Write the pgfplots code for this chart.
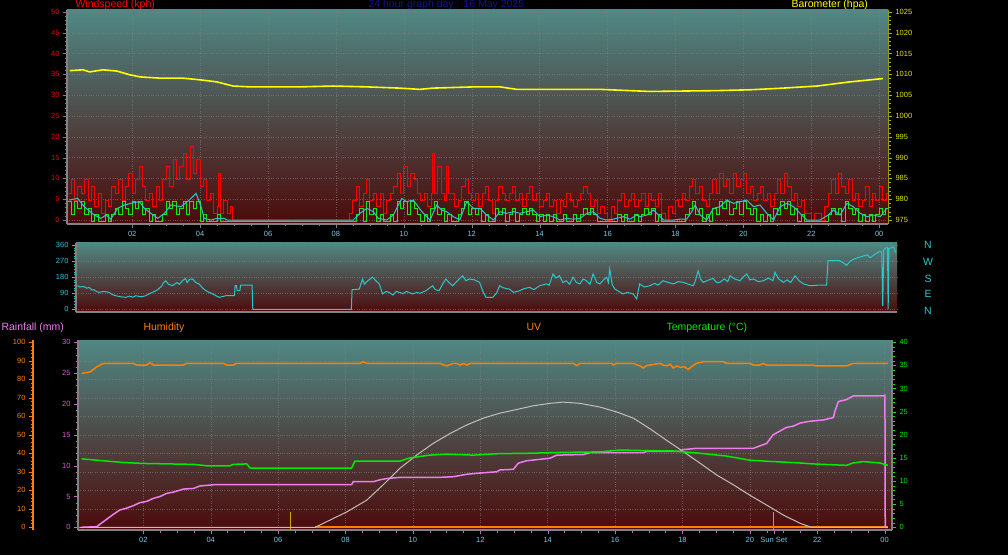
\documentclass[border=0pt]{standalone}
\usepackage{pgfplots}
\pgfplotsset{compat=1.18}
\usepackage{fontspec}
\setmainfont{Liberation Sans}

\definecolor{bgtop}{RGB}{80,136,132}
\definecolor{bgmid}{RGB}{62,66,66}
\definecolor{bgbot}{RGB}{76,10,10}
\definecolor{gridc}{RGB}{130,130,130}
\definecolor{axgray}{RGB}{130,130,130}
\definecolor{windred}{RGB}{255,0,0}
\definecolor{avggreen}{RGB}{20,235,20}
\definecolor{smcyan}{RGB}{40,200,205}
\definecolor{baroyel}{RGB}{255,255,0}
\definecolor{hourcol}{RGB}{120,200,230}
\definecolor{titleblue}{RGB}{20,20,140}
\definecolor{humor}{RGB}{255,128,0}
\definecolor{rainpink}{RGB}{240,125,240}
\definecolor{rainlab}{RGB}{205,100,205}
\definecolor{tempgreen}{RGB}{0,235,0}
\definecolor{uvgray}{RGB}{195,190,190}
\definecolor{sunmark}{RGB}{210,160,0}

\pgfplotsset{
  wx/.style={
    scale only axis, anchor=south west, tick align=outside,
    ticklabel style={font=\fontsize{7.5}{8}\selectfont},
    /pgf/number format/assume math mode=true,
    /pgf/number format/1000 sep={},
    major tick length=4pt, minor tick length=2.5pt,
    grid style={dotted, draw=gridc, opacity=0.6},
    axis line style={draw=axgray, line width=1.5pt},
  },
  bg/.style={axis background/.style={top color=bgtop, middle color=bgmid, bottom color=bgbot}},
  hours/.style={
    xtick={2,4,...,24}, minor x tick num=3,
    xticklabels={02,04,06,08,10,12,14,16,18,20,22,00},
    xticklabel style={text=hourcol},
  },
}

\begin{document}
\begin{tikzpicture}
\fill[black] (0pt,0pt) rectangle (1008pt,555pt);

% ---------- top panel: wind ----------
\begin{axis}[wx, bg, hours, at={(67pt,331pt)}, width=821pt, height=214pt,
  xmin=0.08, xmax=24.26, ymin=-0.96, ymax=50.48,
  axis y line*=left, axis x line*=bottom,
  ytick={0,5,...,50}, minor y tick num=4,
  yticklabel style={text=red!90!black},
  grid=major]
\addplot[windred, line width=0.8pt, const plot] coordinates {
(0.1,6.4)(0.2,9.7)(0.3,4.8)(0.4,8.0)(0.5,6.4)(0.6,9.7)(0.7,4.8)(0.8,8.0)(0.9,3.2)(1.0,6.4)
(1.1,1.6)(1.2,4.8)(1.3,3.2)(1.4,8.0)(1.5,6.4)(1.6,9.7)(1.7,4.8)(1.8,8.0)(1.9,11.3)(2.0,6.4)
(2.1,9.7)(2.2,12.9)(2.3,8.0)(2.4,4.8)(2.5,6.4)(2.6,3.2)(2.7,8.0)(2.8,4.8)(2.9,9.7)(3.0,12.9)
(3.1,8.0)(3.2,14.5)(3.3,9.7)(3.4,12.9)(3.5,16.1)(3.6,9.7)(3.7,17.7)(3.8,11.3)(3.9,14.5)(4.0,8.0)
(4.1,9.7)(4.2,4.8)(4.3,6.4)(4.4,1.6)(4.5,3.2)(4.55,11.3)(4.6,1.6)(4.7,4.8)(4.8,1.6)(4.9,3.2)(4.95,0)
(8.35,0)(8.4,1.6)(8.5,4.8)(8.6,8.0)(8.7,3.2)(8.8,6.4)(8.9,9.7)(9.0,4.8)
(9.1,6.4)(9.2,3.2)(9.3,6.4)(9.4,1.6)(9.5,4.8)(9.6,6.4)(9.7,8.0)(9.8,11.3)(9.9,6.4)(10.0,12.9)
(10.1,8.0)(10.2,11.3)(10.3,9.7)(10.4,6.4)(10.5,4.8)(10.6,6.4)(10.7,3.2)(10.8,6.4)(10.85,16.1)(10.9,6.4)(11.0,12.9)
(11.1,6.4)(11.2,4.8)(11.25,12.9)(11.3,6.4)(11.4,6.4)(11.5,3.2)(11.6,4.8)(11.7,8.0)(11.8,9.7)(11.9,6.4)(12.0,4.8)
(12.1,6.4)(12.2,3.2)(12.3,6.4)(12.4,8.0)(12.5,4.8)(12.6,1.6)(12.7,4.8)(12.8,8.0)(12.9,6.4)(13.0,4.8)
(13.1,6.4)(13.2,8.0)(13.3,4.8)(13.4,6.4)(13.5,3.2)(13.6,6.4)(13.7,8.0)(13.8,4.8)(13.9,6.4)(14.0,3.2)
(14.1,4.8)(14.2,6.4)(14.3,3.2)(14.4,4.8)(14.5,1.6)(14.6,4.8)(14.7,3.2)(14.8,6.4)(14.9,4.8)(15.0,3.2)
(15.1,4.8)(15.2,6.4)(15.3,8.0)(15.4,6.4)(15.5,3.2)(15.6,4.8)(15.7,1.6)(15.8,3.2)(15.9,1.6)(16.0,0)
(16.1,3.2)(16.2,1.6)(16.3,4.8)(16.4,6.4)(16.5,3.2)(16.6,4.8)(16.7,6.4)(16.8,3.2)(16.9,4.8)(17.0,6.4)
(17.1,3.2)(17.2,6.4)(17.3,4.8)(17.4,3.2)(17.5,6.4)(17.6,1.6)(17.7,0)(17.8,3.2)(17.9,1.6)(18.0,4.8)
(18.1,3.2)(18.2,6.4)(18.3,4.8)(18.4,8.0)(18.5,9.7)(18.6,6.4)(18.7,8.0)(18.8,4.8)(18.9,3.2)(19.0,6.4)
(19.1,9.7)(19.2,6.4)(19.3,11.3)(19.4,8.0)(19.5,9.7)(19.6,6.4)(19.7,11.3)(19.8,8.0)(19.9,9.7)(20.0,11.3)
(20.1,6.4)(20.2,8.0)(20.3,4.8)(20.4,6.4)(20.5,8.0)(20.6,4.8)(20.7,6.4)(20.8,3.2)(20.9,6.4)(21.0,9.7)
(21.1,6.4)(21.2,11.3)(21.3,8.0)(21.4,4.8)(21.5,6.4)(21.6,3.2)(21.7,4.8)(21.8,1.6)(21.9,1.6)(22.0,0)
(22.1,1.6)(22.2,1.6)(22.3,0)(22.4,3.2)(22.5,6.4)(22.6,9.7)(22.7,6.4)(22.8,11.3)(22.9,8.0)(23.0,6.4)
(23.1,9.7)(23.2,4.8)(23.3,6.4)(23.4,3.2)(23.5,4.8)(23.6,8.0)(23.7,3.2)(23.8,6.4)(23.9,4.8)(24.0,8.0)
(24.1,4.8)(24.2,6.4)(24.3,6.4)
};
\addplot[avggreen, line width=1pt, const plot, yshift=-1.5pt] coordinates {
(0.1,4.8)(0.2,1.6)(0.3,4.8)(0.4,3.2)(0.5,4.8)(0.6,1.6)(0.7,3.2)(0.8,0)(0.9,1.6)(1.0,0)
(1.2,1.6)(1.3,0)(1.4,1.6)(1.5,3.2)(1.6,1.6)(1.7,4.8)(1.8,3.2)(1.9,1.6)(2.0,4.8)
(2.1,3.2)(2.2,4.8)(2.3,1.6)(2.4,3.2)(2.5,0)(2.6,1.6)(2.7,0)(2.9,1.6)(3.0,4.8)
(3.1,3.2)(3.2,4.8)(3.3,1.6)(3.4,3.2)(3.5,4.8)(3.6,1.6)(3.7,4.8)(3.8,3.2)(3.9,4.8)(4.0,0)
(4.1,1.6)(4.2,0)(4.5,1.6)(4.6,0)(8.6,1.6)(8.7,3.2)(8.8,0)(8.9,4.8)(9.0,1.6)
(9.1,3.2)(9.2,0)(9.3,1.6)(9.4,0)(9.6,1.6)(9.7,0)(9.8,4.8)(9.9,3.2)(10.0,4.8)
(10.1,1.6)(10.2,4.8)(10.3,3.2)(10.4,1.6)(10.5,0)(10.6,1.6)(10.7,0)(10.8,3.2)(10.9,4.8)(11.0,1.6)
(11.1,3.2)(11.2,0)(11.3,1.6)(11.4,0)(11.6,1.6)(11.7,3.2)(11.8,4.8)(11.9,1.6)(12.0,3.2)
(12.1,1.6)(12.2,3.2)(12.3,0)(12.4,1.6)(12.5,0)(12.7,3.2)(12.8,1.6)(12.9,3.2)(13.0,0)
(13.1,1.6)(13.2,3.2)(13.3,0)(13.4,1.6)(13.5,3.2)(13.6,1.6)(13.7,3.2)(13.8,1.6)(13.9,0)(14.0,1.6)
(14.1,0)(14.2,1.6)(14.3,0)(14.4,1.6)(14.5,0)(14.7,1.6)(14.8,0)(15.0,1.6)
(15.1,0)(15.2,1.6)(15.3,3.2)(15.4,1.6)(15.5,3.2)(15.6,1.6)(15.7,0)(16.3,1.6)(16.4,0)
(16.5,1.6)(16.6,0)(16.8,1.6)(16.9,0)(17.0,1.6)(17.1,3.2)(17.2,1.6)(17.3,3.2)(17.4,0)(17.5,1.6)
(17.6,0)(18.3,1.6)(18.4,3.2)(18.5,4.8)(18.6,1.6)(18.7,3.2)(18.8,0)(18.9,1.6)(19.0,0)
(19.1,3.2)(19.2,1.6)(19.3,4.8)(19.4,3.2)(19.5,4.8)(19.6,1.6)(19.7,3.2)(19.8,4.8)(19.9,1.6)(20.0,4.8)
(20.1,3.2)(20.2,1.6)(20.3,3.2)(20.4,0)(20.5,1.6)(20.6,0)(20.7,1.6)(20.8,0)(20.9,3.2)(21.0,1.6)
(21.1,4.8)(21.2,3.2)(21.3,4.8)(21.4,1.6)(21.5,3.2)(21.6,0)(21.7,1.6)(21.8,0)(22.5,1.6)
(22.6,3.2)(22.7,1.6)(22.8,3.2)(22.9,0)(23.0,4.8)(23.1,3.2)(23.2,1.6)(23.3,3.2)(23.4,0)(23.5,1.6)
(23.6,0)(23.7,1.6)(23.8,0)(23.9,1.6)(24.0,3.2)(24.1,1.6)(24.2,3.2)(24.3,3.2)
};
\addplot[smcyan, line width=1pt] coordinates {
(0.15,4.8)(0.39,5.2)(0.59,3.2)(0.88,1.2)(1.08,0.4)(1.23,1.2)(1.37,0.2)(1.57,2.8)(1.77,3.6)
(2.06,4.2)(2.21,4.4)(2.36,2.8)(2.55,1.6)(2.75,0.4)(2.95,1.6)(3.14,3.6)(3.44,3.2)(3.68,4.8)
(3.88,6.4)(4.03,3.2)(4.12,0.4)(4.32,0)(4.5,0.4)(4.7,0.4)(4.8,0)(8.51,0)(8.71,1.6)(8.91,2.8)
(9.1,2.0)(9.25,0.4)(9.5,0)(9.69,1.2)(9.94,5.2)(10.08,4.4)(10.28,4.8)(10.53,2.0)(10.77,0)
(10.97,3.6)(11.11,2.4)(11.26,2.0)(11.46,0.8)(11.65,0)(11.85,4.4)(12.05,2.8)(12.24,2.8)
(12.44,1.2)(12.64,0)(12.83,2.0)(13.03,1.6)(13.23,2.0)(13.42,1.6)(13.62,2.0)(13.81,2.4)
(14.01,0.8)(14.21,1.2)(14.4,0.8)(14.6,0)(14.8,0.4)(14.99,0.2)(15.19,0.4)(15.39,1.6)(15.58,2.0)
(15.78,0.4)(15.97,0)(16.17,0.2)(16.47,0.8)(16.66,0.2)(16.86,1.2)(16.96,0.8)(17.16,1.2)
(17.35,2.4)(17.5,1.2)(17.65,0)(17.94,0)(18.14,0.2)(18.33,0.2)(18.48,2.0)(18.58,3.6)(18.73,1.2)
(18.92,0)(19.12,2.8)(19.32,3.2)(19.51,4.8)(19.71,4.0)(19.9,4.4)(20.1,4.8)(20.3,3.2)(20.49,3.6)
(20.69,1.6)(20.89,0)(21.08,3.2)(21.28,4.0)(21.48,3.2)(21.67,1.6)(21.87,0)(22.26,0)(22.5,1.2)
(22.65,2.4)(22.85,1.2)(23.05,4.0)(23.24,3.2)(23.44,1.6)(23.64,0.8)(23.83,1.2)(24.03,0.8)(24.22,2.8)
};
\end{axis}

\begin{axis}[wx, at={(67pt,331pt)}, width=821pt, height=214pt,
  xmin=0.08, xmax=24.26, ymin=974.04, ymax=1025.48,
  axis y line*=right, axis x line=none,
  ytick={975,980,...,1025}, minor y tick num=4,
  yticklabel style={text=baroyel!90!black},
  axis line style={draw=baroyel!60!black, line width=1pt},
  every tick/.append style={draw=baroyel!70!black}]
\addplot[baroyel, line width=1.6pt] coordinates {
(0.16,1010.9)(0.55,1011.1)(0.75,1010.6)(1.14,1011.1)(1.55,1010.8)(1.93,1009.9)(2.23,1009.4)
(2.82,1009.1)(3.49,1009.1)(3.99,1008.7)(4.49,1008.2)(4.97,1007.2)(5.47,1007.0)(6.94,1007.0)
(7.91,1007.2)(8.91,1007.0)(9.88,1006.7)(10.47,1006.4)(10.85,1006.7)(12.06,1007.0)(12.83,1007.0)
(13.33,1006.4)(15.78,1006.4)(17.25,1005.9)(19.22,1006.1)(20.19,1006.3)(21.17,1006.7)
(22.17,1007.2)(23.14,1008.2)(24.11,1009.0)
};
\end{axis}

% ---------- wind direction ----------
\begin{axis}[wx, bg, at={(76pt,243pt)}, width=821pt, height=69pt,
  xmin=0.08, xmax=24.23, ymin=-15, ymax=371,
  axis y line*=left, axis x line*=bottom,
  xtick={2,4,...,24}, xticklabels={}, xmajorticks=false,
  ytick={0,90,...,360}, minor y tick num=5,
  yticklabel style={text=smcyan},
  every tick/.append style={draw=smcyan},
  ymajorgrids]
\addplot[smcyan, line width=1pt] coordinates {
(0.12,132)(0.2,125)(0.3,128)(0.4,118)(0.46,123)(0.55,108)(0.6,110)(0.68,100)(0.76,95)(0.9,100)
(1.05,95)(1.15,82)(1.25,76)(1.4,70)(1.54,67)(1.65,74)(1.75,68)(1.84,76)(2.0,70)(2.13,76)
(2.25,88)(2.43,104)(2.5,112)(2.6,130)(2.65,148)(2.72,160)(2.8,140)(2.92,132)(3.05,150)(3.12,140)
(3.21,160)(3.3,172)(3.35,150)(3.42,168)(3.51,170)(3.6,150)(3.7,142)(3.8,120)(3.9,104)(4.0,95)
(4.1,86)(4.2,76)(4.29,67)(4.49,76)(4.69,76)(4.74,76)(4.76,132)(4.8,132)(4.82,104)(4.9,104)
(4.92,135)(5.26,135)(5.28,0)(8.18,0)(8.2,110)(8.41,113)(8.51,170)(8.56,140)(8.61,151)(8.7,165)
(8.8,180)(8.9,160)(9.0,142)(9.1,86)(9.2,100)(9.29,95)(9.4,80)(9.5,100)(9.59,95)(9.7,88)
(9.8,100)(9.98,86)(10.1,95)(10.2,90)(10.37,104)(10.45,115)(10.57,132)(10.65,110)(10.76,104)
(10.86,140)(10.96,170)(11.05,150)(11.16,132)(11.3,160)(11.45,188)(11.55,160)(11.65,170)
(11.8,165)(11.95,151)(12.05,100)(12.14,67)(12.34,67)(12.45,90)(12.54,132)(12.65,120)(12.83,113)
(12.95,95)(13.13,104)(13.25,115)(13.42,123)(13.55,110)(13.72,132)(13.91,142)(14.0,135)(14.11,198)
(14.2,175)(14.3,188)(14.4,150)(14.5,160)(14.6,140)(14.7,180)(14.8,150)(14.9,142)(15.0,170)
(15.09,160)(15.2,140)(15.29,198)(15.4,150)(15.49,142)(15.6,165)(15.69,180)(15.74,150)(15.78,226)
(15.85,140)(15.93,113)(16.05,100)(16.17,86)(16.3,95)(16.47,86)(16.57,58)(16.66,142)(16.8,125)
(16.96,132)(17.1,145)(17.2,135)(17.35,160)(17.5,150)(17.65,142)(17.8,155)(17.94,151)(18.1,140)
(18.24,132)(18.3,160)(18.38,216)(18.45,170)(18.53,151)(18.7,165)(18.82,173)(18.92,150)(19.02,151)
(19.15,170)(19.25,155)(19.32,188)(19.45,170)(19.61,160)(19.7,180)(19.81,198)(19.9,165)(20.01,170)
(20.15,155)(20.3,160)(20.45,175)(20.58,160)(20.64,207)(20.75,170)(20.89,151)(21.0,165)(21.1,150)
(21.23,188)(21.35,160)(21.48,142)(21.67,132)(21.9,135)(22.16,135)(22.2,272)(22.4,272)(22.55,272)
(22.65,260)(22.75,246)(22.85,270)(22.95,280)(23.1,290)(23.24,298)(23.35,305)(23.44,289)(23.6,310)
(23.73,325)(23.78,320)(23.81,20)(23.84,330)(23.88,342)(23.95,345)(23.97,0)(23.99,340)(24.02,342)
(24.12,350)(24.2,315)
};
\end{axis}

% ---------- bottom panel ----------
\begin{axis}[wx, bg, hours, at={(78pt,25pt)}, width=814pt, height=190pt,
  xmin=0.06, xmax=24.22, ymin=-0.44, ymax=30.37,
  axis y line*=left, axis x line*=bottom,
  ytick={0,5,...,30}, minor y tick num=4,
  yticklabel style={text=rainlab},
  every tick/.append style={draw=rainlab},
  xmajorgrids,
  extra x ticks={20.71}, extra x tick labels={Sun Set},
  extra x tick style={grid=none, xticklabel style={text=hourcol}},
  extra y ticks={3,6,...,27}, extra y tick labels={},
  extra y tick style={grid=major, major tick length=0pt}]
\addplot[sunmark, line width=1pt] coordinates {(6.37,-0.44)(6.37,2.5)};
\addplot[sunmark, line width=1pt] coordinates {(20.71,-0.44)(20.71,2.5)};
\addplot[humor, line width=2pt] coordinates {(7.1,0)(24.1,0)};
\addplot[rainpink, line width=1.5pt] coordinates {
(0.17,0)(0.62,0.1)(0.71,0.5)(0.91,1.3)(1.11,2.1)(1.3,2.8)(1.5,3.1)(1.7,3.5)(1.9,4.0)(2.1,4.2)
(2.3,4.7)(2.5,5.0)(2.69,5.5)(2.89,5.7)(3.19,6.2)(3.49,6.3)(3.68,6.7)(4.08,6.9)(8.18,6.9)(8.23,7.4)
(8.83,7.4)(9.02,7.7)(9.22,7.9)(9.62,8.1)(10.8,8.1)(11.2,8.2)(11.6,8.6)(11.99,8.8)(12.49,9.0)
(12.58,9.3)(12.98,9.4)(13.13,10.4)(13.38,10.8)(13.57,10.9)(14.07,11.2)(14.27,11.7)(15.06,11.8)
(15.26,12.1)(16.84,12.1)(16.94,12.3)(17.93,12.3)(18.02,12.6)(18.42,12.8)(20.1,12.8)(20.3,13.2)
(20.5,13.6)(20.69,15.0)(20.89,15.6)(21.09,16.2)(21.29,16.4)(21.49,16.9)(21.79,17.2)(22.18,17.4)
(22.48,17.8)(22.53,18.9)(22.63,20.4)(22.87,20.7)(23.07,21.3)(23.96,21.3)(24.01,21.4)(24.02,0)(24.1,0)
};
\addplot[uvgray, line width=1pt] coordinates {
(0.1,0)(7.1,0)(8.04,2.5)(8.63,4.4)(9.12,6.9)(9.62,9.6)(10.11,11.7)(10.6,13.6)(11.1,15.2)
(11.6,16.6)(12.09,17.7)(12.58,18.5)(13.08,19.1)(13.57,19.7)(14.07,20.1)(14.46,20.3)(14.96,20.1)
(15.55,19.5)(16.05,18.7)(16.54,17.7)(17.03,16.0)(17.53,14.1)(18.02,12.3)(18.52,10.4)(19.01,8.5)
(19.51,6.9)(20.0,5.2)(20.5,3.6)(20.99,2.0)(21.49,0.65)(21.83,0)(24.1,0)
};
\end{axis}

\begin{axis}[wx, at={(78pt,25pt)}, width=814pt, height=190pt,
  xmin=0.06, xmax=24.22, ymin=-1.47, ymax=101.23, hide axis]
\addplot[humor, line width=1.5pt] coordinates {
(0.17,83.2)(0.42,84)(0.62,86.8)(0.81,88.6)(1.7,88.6)(1.8,87.7)(2.1,87.7)(2.2,89)(2.3,87.7)
(3.19,87.7)(3.29,88.6)(4.37,88.6)(4.47,87.7)(4.67,87.7)(4.77,88.6)(8.43,88.6)(8.53,89.5)(8.63,88.6)
(10.8,88.6)(11.0,87.2)(11.2,88.6)(11.3,88.6)(11.4,87.7)(11.5,88.6)(11.6,87.7)(11.7,88.6)(14.76,88.6)
(14.86,87.4)(14.96,88.6)(15.9,88.6)(15.95,87.7)(16.05,88.6)(16.54,88.6)(16.74,87.2)(16.84,86.1)
(16.94,87.4)(17.33,88.6)(17.43,87.7)(17.53,87.2)(17.63,88.2)(17.73,86.1)(17.83,87.2)(17.93,86.4)
(18.05,86.8)(18.17,85.3)(18.3,87.2)(18.42,88.6)(18.62,89.5)(19.21,89.5)(19.31,88.6)(20.0,88.6)
(20.1,87.7)(20.3,87.7)(20.4,88.6)(20.5,87.7)(21.88,87.7)(21.98,87.2)(22.87,87.2)(23.07,88.6)(24.1,88.6)
};
\end{axis}

\begin{axis}[wx, at={(78pt,25pt)}, width=814pt, height=190pt,
  xmin=0.06, xmax=24.22, ymin=-0.59, ymax=40.49,
  axis y line*=right, axis x line=none,
  ytick={0,5,...,40}, minor y tick num=4,
  yticklabel style={text=tempgreen},
  every tick/.append style={draw=tempgreen}]
\addplot[tempgreen, line width=1.5pt] coordinates {
(0.17,14.8)(0.62,14.5)(1.41,14.0)(2.0,13.8)(3.49,13.6)(3.88,13.3)(4.57,13.3)(4.67,13.6)(5.07,13.7)
(5.17,12.8)(8.18,12.8)(8.28,14.3)(9.62,14.3)(9.91,15.0)(10.5,15.6)(11.0,15.8)(11.8,15.6)(12.5,15.9)
(13.38,16.0)(14.56,16.2)(15.55,16.3)(16.14,16.7)(16.74,16.6)(17.73,16.5)(18.52,16.0)(19.31,15.4)
(20.0,14.5)(20.69,14.2)(21.49,13.9)(21.88,13.7)(22.48,13.5)(22.87,13.4)(23.07,13.9)(23.37,14.2)
(23.86,13.9)(24.1,13.4)
};
\end{axis}

% outer humidity scale
\begin{axis}[wx, at={(33pt,25pt)}, width=1pt, height=190pt,
  xmin=0, xmax=1, ymin=-1.47, ymax=101.23,
  axis y line*=left, axis x line=none,
  ytick={0,10,...,100}, minor y tick num=4,
  yticklabel style={text=humor},
  axis line style={draw=humor, line width=1.5pt},
  every tick/.append style={draw=humor}]
\addplot[draw=none] coordinates {(0,0)};
\end{axis}

% ---------- texts ----------
\begin{scope}[font=\fontsize{10.5}{12}\selectfont]
\node[anchor=base west, text=red] at (72pt,547pt) {Windspeed (kph)};
\node[anchor=base west, text=titleblue] at (365pt,547pt) {24 hour graph day : 16 May 2025};
\node[anchor=base west, text=baroyel] at (788pt,547pt) {Barometer (hpa)};
\node[anchor=base west, text=rainpink] at (-2pt,224.5pt) {Rainfall (mm)};
\node[anchor=base west, text=humor] at (140pt,224.5pt) {Humidity};
\node[anchor=base west, text=humor] at (523pt,224.5pt) {UV};
\node[anchor=base west, text=tempgreen] at (663pt,224.5pt) {Temperature (°C)};
\node[text=smcyan] at (928pt,310pt) {N};
\node[text=smcyan] at (928pt,293.5pt) {W};
\node[text=smcyan] at (928pt,276pt) {S};
\node[text=smcyan] at (928pt,261pt) {E};
\node[text=smcyan] at (928pt,244.5pt) {N};
\end{scope}

\pgfresetboundingbox
\path[use as bounding box] (0pt,0pt) rectangle (1008pt,555pt);
\end{tikzpicture}
\end{document}
